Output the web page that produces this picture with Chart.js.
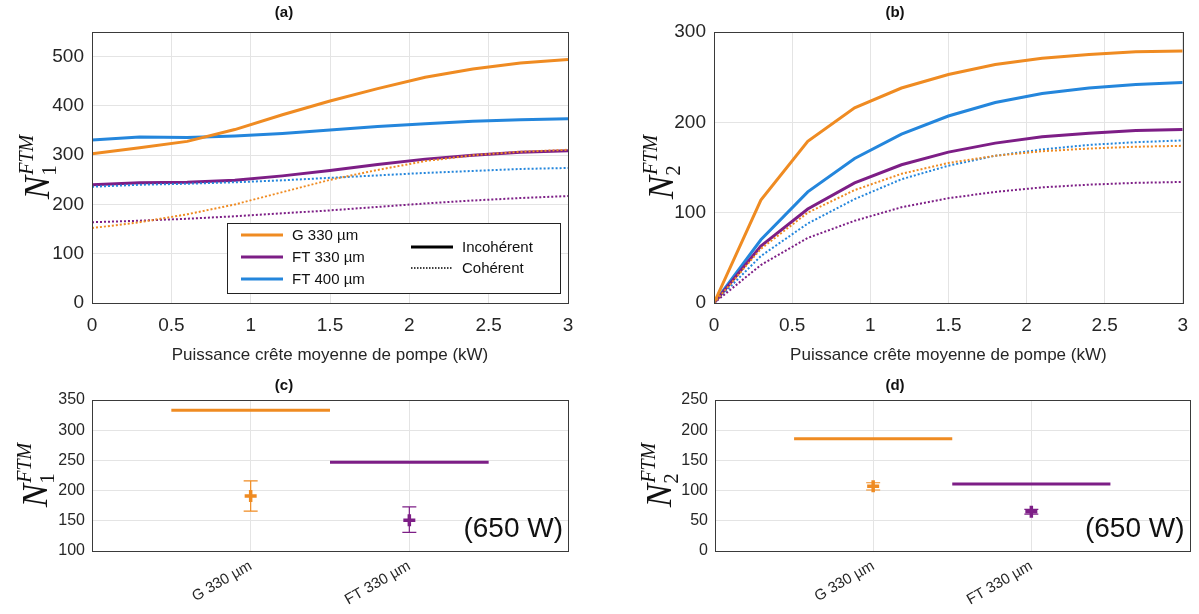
<!DOCTYPE html>
<html>
<head>
<meta charset="utf-8">
<script src="https://cdn.jsdelivr.net/npm/chart.js@4.4.1/dist/chart.umd.min.js"></script>
<style>
  body { margin: 0; background: #fff; width: 1199px; height: 614px; overflow: hidden; position: relative; }
  .panel { position: absolute; }
</style>
</head>
<body>
<div class="panel" style="left:0;top:0;width:600px;height:370px"><canvas id="chartA"></canvas></div>
<div class="panel" style="left:600px;top:0;width:599px;height:370px"><canvas id="chartB"></canvas></div>
<div class="panel" style="left:0;top:370px;width:600px;height:244px"><canvas id="chartC"></canvas></div>
<div class="panel" style="left:600px;top:370px;width:599px;height:244px"><canvas id="chartD"></canvas></div>
<script>
// pump power (kW)
const power = [0, 0.3, 0.6, 0.9, 1.2, 1.5, 1.8, 2.1, 2.4, 2.7, 3.0];
const powerTicks = [0, 0.5, 1, 1.5, 2, 2.5, 3];

// (a) N1 FTM
const aG330Inc = [303, 315, 328, 352, 382, 410, 435, 458, 475, 487, 494];
const aFT330Inc = [240, 244, 245, 249, 258, 269, 281, 292, 300, 306, 309];
const aFT400Inc = [331, 337, 336, 339, 344, 351, 358, 364, 369, 372, 374];
const aG330Coh = [152, 164, 180, 200, 225, 250, 270, 288, 300, 307, 311];
const aFT330Coh = [164, 167, 171, 176, 182, 188, 195, 202, 208, 213, 217];
const aFT400Coh = [236, 240, 242, 245, 249, 254, 259, 264, 268, 272, 274];
const aTicks = [0, 100, 200, 300, 400, 500];

// (b) N2 FTM
const bG330Inc = [0, 114, 179, 216, 238, 253, 264, 271, 275, 278, 279];
const bFT330Inc = [0, 63, 104, 133, 153, 167, 177, 184, 188, 191, 192];
const bFT400Inc = [0, 70, 123, 160, 187, 207, 222, 232, 238, 242, 244];
const bG330Coh = [0, 60, 100, 125, 143, 155, 163, 168, 171, 173, 174];
const bFT330Coh = [0, 42, 72, 91, 106, 116, 123, 128, 131, 133, 134];
const bFT400Coh = [0, 52, 88, 115, 137, 152, 163, 170, 175, 178, 180];
const bTicks = [0, 100, 200, 300];

// (c) / (d) at 650 W
const fibres = ['G 330 µm', 'FT 330 µm'];
const fibrePos = [1, 2];
const cLevel = [333, 247];
const cMeas = [191, 151];
const cLow = [166, 131];
const cHigh = [216, 173];
const cTicks = [100, 150, 200, 250, 300, 350];
const dLevel = [186, 111];
const dMeas = [107, 65];
const dLow = [101, 61];
const dHigh = [113, 69];
const dTicks = [0, 50, 100, 150, 200, 250];

const ORANGE = '#EF8B22';
const PURPLE = '#7D1E86';
const BLUE = '#2486DC';
const fibreColors = [ORANGE, PURPLE];
const GRID = '#e4e4e4';
const TXT = '#262626';
const FONT = '"Liberation Sans", Arial, sans-serif';

const toXY = (xs, ys) => xs.map((x, i) => ({ x, y: ys[i] }));

function lineSet(values, color, dotted) {
  return {
    data: toXY(power, values),
    borderColor: color,
    borderWidth: dotted ? 2 : 3,
    borderDash: dotted ? [2, 2] : [],
    pointRadius: 0,
    tension: 0,
    fill: false,
  };
}

function drawYLabel(ctx, cx, cy, sub) {
  ctx.save();
  ctx.translate(cx, cy);
  ctx.rotate(-Math.PI / 2);
  ctx.fillStyle = '#111';
  ctx.textBaseline = 'alphabetic';
  ctx.textAlign = 'left';
  ctx.font = 'italic 35px "Liberation Serif", serif';
  const wN = ctx.measureText('N').width;
  ctx.font = 'italic 20px "Liberation Serif", serif';
  const wS = ctx.measureText('FTM').width;
  const x0 = -(wN + wS) / 2;
  ctx.font = 'italic 35px "Liberation Serif", serif';
  ctx.fillText('N', x0, 11);
  ctx.font = '21px "Liberation Serif", serif';
  ctx.fillText(sub, x0 + wN, 18);
  ctx.font = 'italic 20px "Liberation Serif", serif';
  ctx.fillText('FTM', x0 + wN + 1, -5);
  ctx.restore();
}

// box around plot, y label, error bars, extra text
const framePlugin = {
  id: 'frame',
  afterDatasetsDraw(chart, args, opts) {
    const { ctx, chartArea: a, scales } = chart;
    if (opts.errors) {
      const e = opts.errors;
      e.pos.forEach((p, i) => {
        const x = scales.x.getPixelForValue(p);
        const yl = scales.y.getPixelForValue(e.low[i]);
        const yh = scales.y.getPixelForValue(e.high[i]);
        ctx.save();
        ctx.strokeStyle = e.colors[i];
        ctx.lineWidth = 1.2;
        ctx.beginPath();
        ctx.moveTo(x, yl); ctx.lineTo(x, yh);
        ctx.moveTo(x - 7, yl); ctx.lineTo(x + 7, yl);
        ctx.moveTo(x - 7, yh); ctx.lineTo(x + 7, yh);
        ctx.stroke();
        ctx.restore();
      });
    }
    ctx.save();
    ctx.strokeStyle = '#3a3a3a';
    ctx.lineWidth = 1;
    ctx.strokeRect(Math.round(a.left) + 0.5, Math.round(a.top) + 0.5,
      Math.round(a.right - a.left), Math.round(a.bottom - a.top));
    ctx.restore();
    drawYLabel(ctx, opts.labelX, (a.top + a.bottom) / 2, opts.sub);
    if (opts.note) {
      ctx.save();
      ctx.font = '28px ' + FONT;
      ctx.fillStyle = '#111';
      ctx.textAlign = 'right';
      ctx.textBaseline = 'alphabetic';
      ctx.fillText(opts.note, a.right - 5, a.bottom - 14);
      ctx.restore();
    }
  }
};

// two-column legend of panel (a)
const legendPlugin = {
  id: 'boxLegend',
  afterDraw(chart, args, opts) {
    if (!opts.items) return;
    const { ctx, chartArea: a } = chart;
    const w = 333, h = 70;
    const x = a.right - 8 - w, y = a.bottom - 10 - h;
    ctx.save();
    ctx.fillStyle = '#fff';
    ctx.fillRect(x, y, w, h);
    ctx.strokeStyle = '#222';
    ctx.lineWidth = 1;
    ctx.strokeRect(x + 0.5, y + 0.5, w, h);
    ctx.font = '15px ' + FONT;
    ctx.textBaseline = 'middle';
    ctx.fillStyle = '#111';
    opts.items.forEach((it, i) => {
      const yy = y + 12 + i * 22;
      ctx.strokeStyle = it.color;
      ctx.lineWidth = 3;
      ctx.setLineDash([]);
      ctx.beginPath(); ctx.moveTo(x + 14, yy); ctx.lineTo(x + 56, yy); ctx.stroke();
      ctx.fillText(it.text, x + 65, yy + 1);
    });
    opts.styles.forEach((it, i) => {
      const yy = y + 24 + i * 21;
      ctx.strokeStyle = '#000';
      ctx.lineWidth = it.dotted ? 1.5 : 3;
      ctx.setLineDash(it.dotted ? [1.5, 1.5] : []);
      ctx.beginPath(); ctx.moveTo(x + 184, yy); ctx.lineTo(x + 226, yy); ctx.stroke();
      ctx.fillText(it.text, x + 235, yy + 1);
    });
    ctx.restore();
  }
};

Chart.register(framePlugin, legendPlugin);

function fixTicks(list) {
  return (scale) => { scale.ticks = list.map(v => ({ value: v })); };
}

function makeTop(id, title, datasets, yMax, yTicks, yWidth, padRight, sub, labelX, legend) {
  return new Chart(document.getElementById(id), {
    type: 'line',
    data: { datasets },
    options: {
      responsive: true,
      maintainAspectRatio: false,
      animation: false,
      layout: { padding: { top: 0, right: padRight, bottom: 0, left: 0 } },
      plugins: {
        legend: { display: false },
        tooltip: { enabled: false },
        title: {
          display: true, text: title, color: '#111',
          font: { family: FONT, size: 15, weight: 'bold' },
          padding: { top: 4, bottom: 10 },
        },
        frame: { sub, labelX },
        boxLegend: legend || {},
      },
      scales: {
        x: {
          type: 'linear', min: 0, max: 3,
          afterBuildTicks: fixTicks(powerTicks),
          afterFit: (s) => { s.height = 67; },
          grid: { color: GRID, drawTicks: false },
          border: { display: false },
          ticks: {
            color: TXT, font: { family: FONT, size: 19 }, padding: 11, maxRotation: 0,
            callback: (v) => String(v),
          },
          title: {
            display: true, text: 'Puissance crête moyenne de pompe (kW)', color: TXT,
            font: { family: FONT, size: 17 }, padding: { top: 2, bottom: 4 },
          },
        },
        y: {
          min: 0, max: yMax,
          afterBuildTicks: fixTicks(yTicks),
          afterFit: (s) => { s.width = yWidth; },
          grid: { color: GRID, drawTicks: false },
          border: { display: false },
          ticks: { color: TXT, font: { family: FONT, size: 19 }, padding: 8 },
        },
      },
    },
  });
}

function makeBottom(id, title, level, meas, low, high, yMin, yMax, yTicks, yWidth, padRight, sub, labelX) {
  const datasets = fibrePos.map((p, i) => ({
    data: [{ x: p - 0.5, y: level[i] }, { x: p + 0.5, y: level[i] }],
    borderColor: fibreColors[i], borderWidth: 3, pointRadius: 0, fill: false,
  }));
  datasets.push({
    type: 'scatter',
    data: toXY(fibrePos, meas),
    pointStyle: 'cross', pointRadius: 6, borderWidth: 3.5,
    borderColor: fibreColors, backgroundColor: fibreColors,
  });
  return new Chart(document.getElementById(id), {
    type: 'line',
    data: { datasets },
    options: {
      responsive: true,
      maintainAspectRatio: false,
      animation: false,
      layout: { padding: { top: 0, right: padRight, bottom: 0, left: 0 } },
      plugins: {
        legend: { display: false },
        tooltip: { enabled: false },
        title: {
          display: true, text: title, color: '#111',
          font: { family: FONT, size: 15, weight: 'bold' },
          padding: { top: 7, bottom: 5 },
        },
        frame: {
          sub, labelX, note: '(650 W)',
          errors: { pos: fibrePos, low, high, colors: fibreColors },
        },
      },
      scales: {
        x: {
          type: 'linear', min: 0, max: 3,
          afterBuildTicks: fixTicks(fibrePos),
          afterFit: (s) => { s.height = 63; },
          grid: { color: GRID, drawTicks: false },
          border: { display: false },
          ticks: {
            color: TXT, font: { family: FONT, size: 15 }, padding: 6,
            minRotation: 30, maxRotation: 30,
            callback: (v) => fibres[fibrePos.indexOf(v)] || '',
          },
        },
        y: {
          min: yMin, max: yMax,
          afterBuildTicks: fixTicks(yTicks),
          afterFit: (s) => { s.width = yWidth; },
          grid: { color: GRID, drawTicks: false },
          border: { display: false },
          ticks: { color: TXT, font: { family: FONT, size: 16 }, padding: 7 },
        },
      },
    },
  });
}

makeTop('chartA', '(a)', [
  lineSet(aG330Coh, ORANGE, true),
  lineSet(aFT330Coh, PURPLE, true),
  lineSet(aFT400Coh, BLUE, true),
  lineSet(aG330Inc, ORANGE, false),
  lineSet(aFT330Inc, PURPLE, false),
  lineSet(aFT400Inc, BLUE, false),
], 550, aTicks, 92, 32, '1', 38, {
  items: [
    { text: 'G 330 µm', color: ORANGE },
    { text: 'FT 330 µm', color: PURPLE },
    { text: 'FT 400 µm', color: BLUE },
  ],
  styles: [{ text: 'Incohérent', dotted: false }, { text: 'Cohérent', dotted: true }],
});

makeTop('chartB', '(b)', [
  lineSet(bG330Coh, ORANGE, true),
  lineSet(bFT330Coh, PURPLE, true),
  lineSet(bFT400Coh, BLUE, true),
  lineSet(bG330Inc, ORANGE, false),
  lineSet(bFT330Inc, PURPLE, false),
  lineSet(bFT400Inc, BLUE, false),
], 300, bTicks, 114, 9, '2', 62);

makeBottom('chartC', '(c)', cLevel, cMeas, cLow, cHigh, 100, 350, cTicks, 92, 32, '1', 36);
makeBottom('chartD', '(d)', dLevel, dMeas, dLow, dHigh, 0, 250, dTicks, 115, 9, '2', 60);
</script>
</body>
</html>
